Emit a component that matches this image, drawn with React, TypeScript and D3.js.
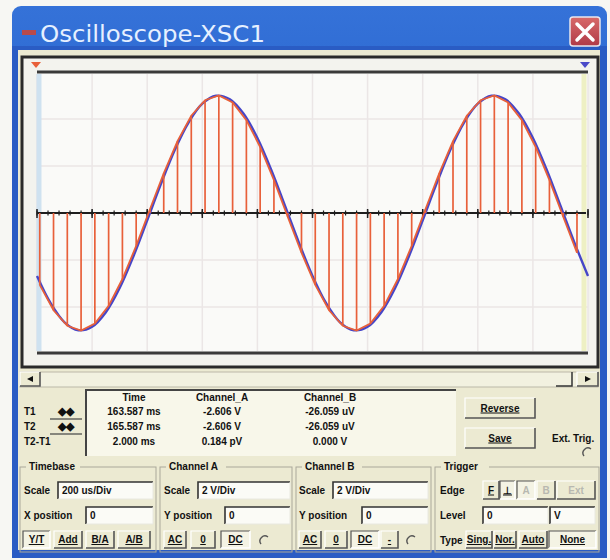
import React from "react";
import * as d3 from "d3";

// ---- data ----
// Timebase 200 us/Div, 10 divisions; Channel scale 2 V/Div
const timeTicksUs = [0, 200, 400, 600, 800, 1000, 1200, 1400, 1600, 1800, 2000];
const voltTicks = [-6, -4, -2, 0, 2, 4, 6];

// Channel A (blue, continuous) sampled every 50 us, volts
const blueTimes = [
  0, 50, 100, 150, 200, 250, 300, 350, 400, 450, 500, 550, 600, 650, 700, 750, 800, 850, 900, 950,
  1000, 1050, 1100, 1150, 1200, 1250, 1300, 1350, 1400, 1450, 1500, 1550, 1600, 1650, 1700, 1750, 1800, 1850, 1900, 1950, 2000,
];
const blueVolts = [
  -2.68, -3.85, -4.65, -4.99, -4.84, -4.22, -3.19, -1.84, -0.31, 1.24, 2.68, 3.85, 4.65, 4.99, 4.84, 4.22, 3.19, 1.84, 0.31, -1.24,
  -2.68, -3.85, -4.65, -4.99, -4.84, -4.22, -3.19, -1.84, -0.31, 1.24, 2.68, 3.85, 4.65, 4.99, 4.84, 4.22, 3.19, 1.84, 0.31, -1.24, -2.68,
];

// Channel B (orange, sampled) stems, every 50 us starting at 10 us
const stemTimes = [
  10, 60, 110, 160, 210, 260, 310, 360, 410, 460, 510, 560, 610, 660, 710, 760, 810, 860, 910, 960,
  1010, 1060, 1110, 1160, 1210, 1260, 1310, 1360, 1410, 1460, 1510, 1560, 1610, 1660, 1710, 1760, 1810, 1860, 1910, 1960,
];
const stemVolts = [
  -3.06, -4.14, -4.8, -5.0, -4.7, -3.95, -2.81, -1.4, 0.16, 1.69, 3.06, 4.14, 4.8, 5.0, 4.7, 3.95, 2.81, 1.4, -0.16, -1.69,
  -3.06, -4.14, -4.8, -5.0, -4.7, -3.95, -2.81, -1.4, 0.16, 1.69, 3.06, 4.14, 4.8, 5.0, 4.7, 3.95, 2.81, 1.4, -0.16, -1.69,
];

const readoutHeaders = ["Time", "Channel_A", "Channel_B"];
const readoutLabels = ["T1", "T2", "T2-T1"];
const readoutTime = ["163.587 ms", "165.587 ms", "2.000 ms"];
const readoutA = ["-2.606 V", "-2.606 V", "0.184 pV"];
const readoutB = ["-26.059 uV", "-26.059 uV", "0.000 V"];

const FONT = "'Liberation Sans', Arial, sans-serif";

function Btn({ x, y, w, h, label, pressed = false, disabled = false }: any) {
  const light = pressed ? "#555" : "#fff";
  const dark = pressed ? "#fff" : "#555";
  return (
    <g>
      <rect x={x} y={y} width={w} height={h} fill={pressed ? "#f4f3e4" : "#ecead2"} />
      <path d={`M${x},${y + h} V${y} H${x + w}`} stroke={light} fill="none" strokeWidth={1.2} />
      <path d={`M${x + w},${y} V${y + h} H${x}`} stroke={dark} fill="none" strokeWidth={1.6} />
      <text
        x={x + w / 2}
        y={y + h / 2 + 3.5}
        textAnchor="middle"
        fontSize={10}
        fontWeight="bold"
        fill={disabled ? "#b8b8b0" : "#111"}
        textDecoration={disabled ? "none" : "underline"}
      >
        {label}
      </text>
    </g>
  );
}

function Input({ x, y, w, h, value }: any) {
  return (
    <g>
      <rect x={x} y={y} width={w} height={h} fill="#fbfbf6" />
      <path d={`M${x},${y + h} V${y} H${x + w}`} stroke="#333" fill="none" strokeWidth={1.6} />
      <path d={`M${x + w},${y} V${y + h} H${x}`} stroke="#e8e8e0" fill="none" strokeWidth={1} />
      <text x={x + 4} y={y + h / 2 + 3.5} fontSize={10} fontWeight="bold" fill="#111">
        {value}
      </text>
    </g>
  );
}

function Group({ x, y, w, h, title }: any) {
  return (
    <g>
      <rect x={x} y={y} width={w} height={h} fill="none" stroke="#aaa89a" strokeWidth={1} />
      <rect x={x + 6} y={y - 6} width={title.length * 6 + 6} height={11} fill="#ecead2" />
      <text x={x + 9} y={y + 3} fontSize={10} fontWeight="bold" fill="#111">
        {title}
      </text>
    </g>
  );
}

function Radio({ cx, cy }: any) {
  return (
    <g>
      <path d={`M${cx - 4},${cy + 3} A5,5 0 0 1 ${cx + 3},${cy - 4}`} stroke="#555" fill="none" strokeWidth={1.4} />
    </g>
  );
}

export default function App() {
  const W = 610;
  const H = 560;
  const x = d3.scaleLinear().domain([0, 2000]).range([37, 588]);
  const y = d3.scaleLinear().domain([-6, 6]).range([354, 72]);

  const bluePts: [number, number][] = blueTimes.map((t, i) => [t, blueVolts[i]]);
  const orangePts: [number, number][] = stemTimes.map((t, i) => [t, stemVolts[i]]);
  const blueLine = d3
    .line<[number, number]>()
    .x((d) => x(d[0]))
    .y((d) => y(d[1]))
    .curve(d3.curveCatmullRom)(bluePts) as string;
  const orangeLine = d3
    .line<[number, number]>()
    .x((d) => x(d[0]))
    .y((d) => y(d[1]))
    .curve(d3.curveLinear)(orangePts) as string;

  const minorTicks = d3.range(0, 2001, 40);
  const y0 = y(0);

  return (
    <svg
      width={W}
      height={H}
      style={{ position: "absolute", left: 0, top: 0, display: "block" }}
      fontFamily={FONT}
    >
      <defs>
        <linearGradient id="title" x1="0" x2="0" y1="0" y2="1">
          <stop offset="0" stopColor="#3572d8" />
          <stop offset="0.5" stopColor="#1c59c6" />
          <stop offset="1" stopColor="#174fb2" />
        </linearGradient>
        <linearGradient id="close" x1="0" x2="0" y1="0" y2="1">
          <stop offset="0" stopColor="#d86a6a" />
          <stop offset="1" stopColor="#b03a48" />
        </linearGradient>
      </defs>
      <rect x={0} y={0} width={W} height={H} fill="#f7f7f3" />
      {/* window frame */}
      <rect x={12} y={6} width={595} height={552} rx={9} fill="url(#title)" />
      <rect x={12} y={46} width={595} height={512} fill="#2a5cc4" />
      {/* title */}
      <rect x={22} y={30} width={14} height={5} fill="#b84a4a" />
      <text x={40} y={42} fontSize={23} fill="#e6f0ff" fontFamily="'DejaVu Sans', sans-serif" textLength={225} lengthAdjust="spacingAndGlyphs">
        Oscilloscope-XSC1
      </text>
      <rect x={570} y={17} width={30} height={29} rx={3} fill="url(#close)" stroke="#e8e8f0" strokeWidth={1.5} />
      <path d="M577,24 L593,40 M593,24 L577,40" stroke="#fff" strokeWidth={3.5} strokeLinecap="round" />

      {/* client area */}
      <rect x={18} y={50} width={582} height={500} fill="#ecead2" />

      {/* screen */}
      <rect x={22} y={57} width={576} height={310} fill="#f3f3ee" stroke="#2a2a2a" strokeWidth={3} />
      <rect x={37} y={72} width={551} height={281} fill="#fafaf8" />
      {/* grid */}
      {timeTicksUs.map((t) => (
        <line key={"gx" + t} x1={x(t)} x2={x(t)} y1={74} y2={351} stroke="#ebe6e6" strokeWidth={1.5} />
      ))}
      {voltTicks.map((v) => (
        <line key={"gy" + v} x1={37} x2={588} y1={y(v)} y2={y(v)} stroke="#ebe6e6" strokeWidth={1.5} />
      ))}
      {/* cursors */}
      <line x1={39} x2={39} y1={74} y2={351} stroke="#cfe2f0" strokeWidth={5} />
      <line x1={584} x2={584} y1={74} y2={351} stroke="#eef0c4" strokeWidth={5} />
      <line x1={37} x2={588} y1={72} y2={72} stroke="#3a3a3a" strokeWidth={3} />
      <line x1={37} x2={588} y1={353} y2={353} stroke="#3a3a3a" strokeWidth={3} />
      <path d="M31,62 L41,62 L36,68 Z" fill="#e8603a" />
      <path d="M580,62 L590,62 L585,68 Z" fill="#4a4ac8" />

      {/* zero axis with ticks */}
      <line x1={37} x2={586} y1={y0} y2={y0} stroke="#1e1e1e" strokeWidth={2} />
      {minorTicks.map((t) => (
        <line key={"mt" + t} x1={x(t)} x2={x(t)} y1={y0 - 2.5} y2={y0 + 2.5} stroke="#1e1e1e" strokeWidth={1.2} />
      ))}
      {timeTicksUs.map((t) => (
        <line key={"Mt" + t} x1={x(t)} x2={x(t)} y1={y0 - 4} y2={y0 + 5} stroke="#1e1e1e" strokeWidth={1.5} />
      ))}

      {/* channel A */}
      <path d={blueLine} fill="none" stroke="#4646c8" strokeWidth={2.4} />
      {/* channel B stems */}
      {orangePts.map((d, i) => (
        <line key={"s" + i} x1={x(d[0])} x2={x(d[0])} y1={y0} y2={y(d[1])} stroke="#e8603a" strokeWidth={1.7} />
      ))}
      <path d={orangeLine} fill="none" stroke="#e8603a" strokeWidth={1.8} />

      {/* scrollbar */}
      <rect x={20} y={372} width={578} height={15} fill="#f2f1e0" stroke="#bbb8a8" />
      <Btn x={20} y={372} w={20} h={14} label="" />
      <path d="M33,376 L27,379 L33,382 Z" fill="#111" />
      <path d="M556,386 H572 V372" stroke="#333" fill="none" strokeWidth={1.5} />
      <Btn x={577} y={372} w={21} h={14} label="" />
      <path d="M585,376 L591,379 L585,382 Z" fill="#111" />

      {/* readout */}
      <rect x={86} y={390} width={370} height={66} fill="#f8f7ea" />
      <path d="M86,456 V390 H456" stroke="#444" fill="none" strokeWidth={2} />
      {readoutHeaders.map((h, i) => (
        <text key={h} x={[134, 222, 330][i]} y={401} textAnchor="middle" fontSize={10} fontWeight="bold" fill="#111">
          {h}
        </text>
      ))}
      {readoutLabels.map((l, i) => (
        <g key={l}>
          <text x={24} y={415 + i * 15} fontSize={10} fontWeight="bold" fill="#111">
            {l}
          </text>
          <text x={134} y={415 + i * 15} textAnchor="middle" fontSize={10} fontWeight="bold" fill="#111">
            {readoutTime[i]}
          </text>
          <text x={222} y={415 + i * 15} textAnchor="middle" fontSize={10} fontWeight="bold" fill="#111">
            {readoutA[i]}
          </text>
          <text x={330} y={415 + i * 15} textAnchor="middle" fontSize={10} fontWeight="bold" fill="#111">
            {readoutB[i]}
          </text>
        </g>
      ))}
      {[0, 1].map((i) => (
        <g key={"ar" + i}>
          <path d={`M50,${419 + i * 15} H82`} stroke="#444" strokeWidth={1.2} />
          <text x={66} y={415 + i * 15} textAnchor="middle" fontSize={11} fontWeight="bold" fill="#111">
            ◆◆
          </text>
        </g>
      ))}
      <Btn x={465} y={398} w={70} h={20} label="Reverse" />
      <Btn x={465} y={428} w={70} h={20} label="Save" />
      <text x={552} y={442} fontSize={10} fontWeight="bold" fill="#111">
        Ext. Trig.
      </text>
      <Radio cx={588} cy={453} />

      {/* Timebase */}
      <Group x={20} y={467} w={136} h={85} title="Timebase" />
      <text x={24} y={494} fontSize={10} fontWeight="bold" fill="#111">Scale</text>
      <Input x={58} y={482} w={95} h={17} value="200 us/Div" />
      <text x={24} y={519} fontSize={10} fontWeight="bold" fill="#111">X position</text>
      <Input x={86} y={507} w={67} h={17} value="0" />
      <Btn x={23} y={531} w={27} h={17} label="Y/T" pressed />
      <Btn x={54} y={531} w={28} h={17} label="Add" />
      <Btn x={86} y={531} w={28} h={17} label="B/A" />
      <Btn x={118} y={531} w={32} h={17} label="A/B" />

      {/* Channel A */}
      <Group x={160} y={467} w={132} h={85} title="Channel A" />
      <text x={164} y={494} fontSize={10} fontWeight="bold" fill="#111">Scale</text>
      <Input x={198} y={482} w={92} h={17} value="2  V/Div" />
      <text x={164} y={519} fontSize={10} fontWeight="bold" fill="#111">Y position</text>
      <Input x={225} y={507} w={65} h={17} value="0" />
      <Btn x={164} y={531} w={22} h={17} label="AC" />
      <Btn x={191} y={531} w={24} h={17} label="0" />
      <Btn x={221} y={531} w={29} h={17} label="DC" pressed />
      <Radio cx={265} cy={541} />

      {/* Channel B */}
      <Group x={296} y={467} w={135} h={85} title="Channel B" />
      <text x={299} y={494} fontSize={10} fontWeight="bold" fill="#111">Scale</text>
      <Input x={333} y={482} w={95} h={17} value="2  V/Div" />
      <text x={299} y={519} fontSize={10} fontWeight="bold" fill="#111">Y position</text>
      <Input x={362} y={507} w={66} h={17} value="0" />
      <Btn x={299} y={531} w={22} h={17} label="AC" />
      <Btn x={325} y={531} w={22} h={17} label="0" />
      <Btn x={351} y={531} w={28} h={17} label="DC" pressed />
      <Btn x={381} y={531} w={17} h={17} label="-" />
      <Radio cx={412} cy={541} />

      {/* Trigger */}
      <Group x={435} y={467} w={164} h={85} title="Trigger" />
      <text x={440} y={494} fontSize={10} fontWeight="bold" fill="#111">Edge</text>
      <Btn x={483} y={481} w={16} h={18} label="F" />
      <Btn x={500} y={481} w={15} h={18} label="⊥" pressed />
      <Btn x={517} y={481} w={18} h={18} label="A" disabled pressed />
      <Btn x={537} y={481} w={18} h={18} label="B" disabled />
      <Btn x={557} y={481} w={38} h={18} label="Ext" disabled />
      <text x={440} y={519} fontSize={10} fontWeight="bold" fill="#111">Level</text>
      <Input x={483} y={507} w={65} h={17} value="0" />
      <Input x={550} y={507} w={45} h={17} value=" V" />
      <text x={440} y={544} fontSize={10} fontWeight="bold" fill="#111">Type</text>
      <Btn x={466} y={531} w={26} h={17} label="Sing." />
      <Btn x={494} y={531} w={22} h={17} label="Nor." />
      <Btn x={519} y={531} w={28} h={17} label="Auto" />
      <Btn x={549} y={531} w={47} h={17} label="None" pressed />
    </svg>
  );
}
